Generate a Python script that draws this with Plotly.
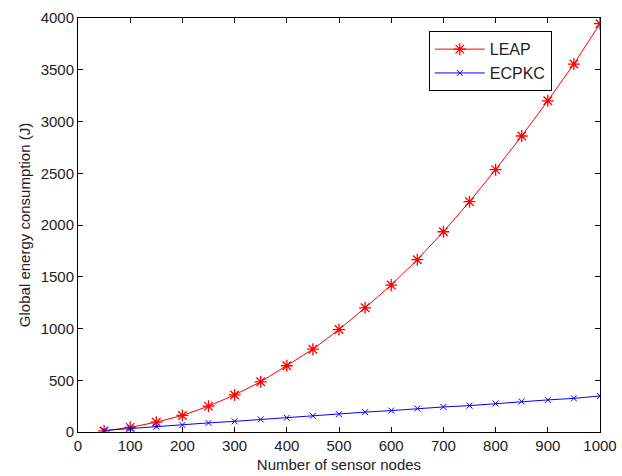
import plotly.graph_objects as go

nodes = [50, 100, 150, 200, 250, 300, 350, 400, 450, 500,
         550, 600, 650, 700, 750, 800, 850, 900, 950, 1000]
leap = [10, 45, 95, 160, 250, 358, 485, 640, 800, 990,
        1200, 1420, 1665, 1935, 2225, 2535, 2860, 3200, 3555, 3945]
ecpkc = [15, 35, 52, 68, 88, 103, 122, 138, 157, 172,
         192, 207, 227, 242, 255, 275, 295, 310, 325, 348]

font = dict(family="Liberation Sans, Arial, sans-serif", size=15, color="#222222")

fig = go.Figure()
fig.add_trace(go.Scatter(
    x=nodes, y=leap, name="LEAP", mode="lines+markers",
    line=dict(color="#ff0000", width=1),
    marker=dict(symbol="asterisk-open", size=10, color="#ff0000",
                line=dict(color="#ff0000", width=1.3)),
))
fig.add_trace(go.Scatter(
    x=nodes, y=ecpkc, name="ECPKC", mode="lines+markers",
    line=dict(color="#0000ff", width=1),
    marker=dict(symbol="x-thin-open", size=6, color="#0000ff",
                line=dict(color="#0000ff", width=1)),
))

axis_common = dict(
    showline=True, linecolor="#000000", linewidth=1, mirror="ticks",
    ticks="inside", ticklen=5, tickcolor="#000000",
    showgrid=False, zeroline=False, tickfont=font, automargin=False,
)
fig.update_xaxes(range=[0, 1000], dtick=100,
                 title=dict(text="Number of sensor nodes", font=font, standoff=6),
                 **axis_common)
fig.update_yaxes(range=[0, 4000], dtick=500,
                 title=dict(text="Global energy consumption (J)", font=font, standoff=6),
                 **axis_common)

fig.update_layout(
    width=622, height=476,
    margin=dict(l=78, r=22, t=18, b=44),
    plot_bgcolor="white", paper_bgcolor="white",
    font=font,
    legend=dict(x=0.672, y=0.968, xanchor="left", yanchor="top",
                bgcolor="white", bordercolor="#000000", borderwidth=1,
                font=dict(family="Liberation Sans, Arial, sans-serif", size=16, color="#222222"),
                itemwidth=50, tracegroupgap=0,
                entrywidth=68, entrywidthmode="pixels"),
)

fig.write_html("out.html")
